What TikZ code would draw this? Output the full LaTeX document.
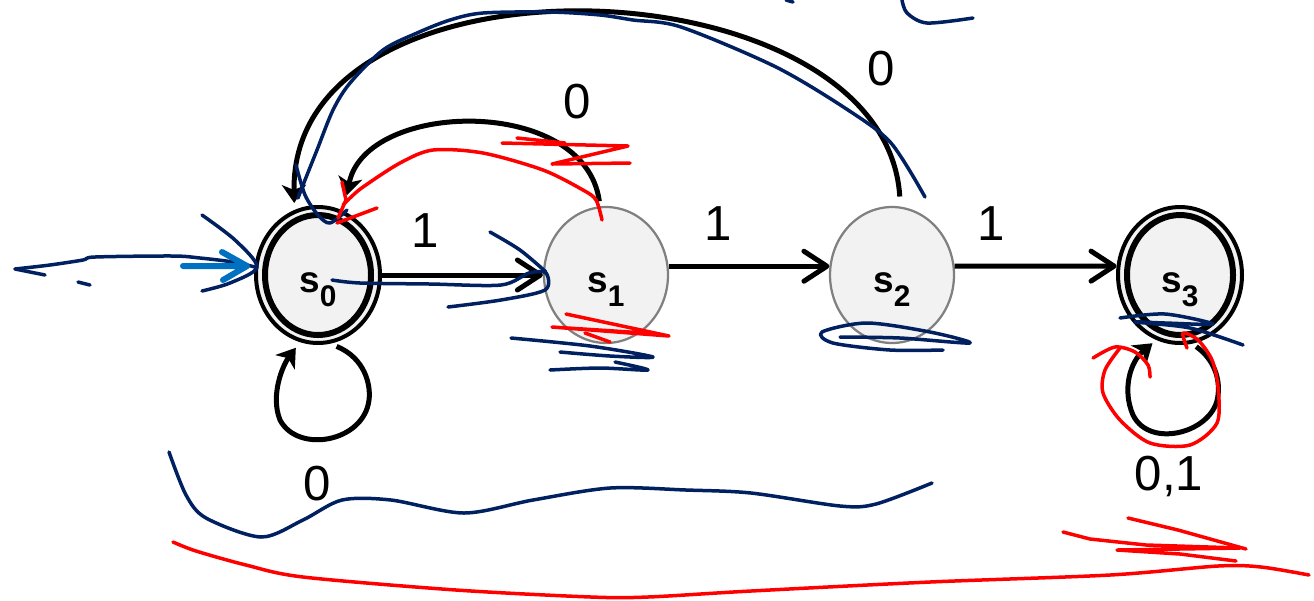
\documentclass[tikz,border=0pt]{standalone}
\usepackage{fontspec}
\setmainfont{Liberation Sans}
\usetikzlibrary{arrows.meta, shapes.geometric}
\definecolor{penblue}{RGB}{0,32,96}
\definecolor{penred}{RGB}{255,0,0}
\definecolor{markblue}{RGB}{0,112,192}
\definecolor{nodefill}{RGB}{242,242,242}
\definecolor{nodegray}{RGB}{128,128,128}
\begin{document}
\begin{tikzpicture}[x=0.02cm, y=-0.02cm,
    state/.style={ellipse, minimum width=2.48cm, minimum height=2.72cm, inner sep=0pt,
        fill=nodefill, draw=nodegray, line width=0.045cm,
        font=\bfseries\fontsize{21}{22}\selectfont},
    accept/.style={state, draw=black, line width=0.08cm},
    ring/.style={line width=0.12cm},
    trans/.style={line width=0.1cm, -{Straight Barb[length=0.46cm, width=0.6cm, round]}},
    backarc/.style={line width=0.1cm, -{Stealth[length=0.36cm, width=0.48cm, inset=0.1cm]}},
    lbl/.style={anchor=base, font=\fontsize{28}{30}\selectfont},
    bluepen/.style={penblue, line width=0.07cm, line cap=round, line join=round},
    redpen/.style={penred, line width=0.07cm, line cap=round, line join=round}]
    % 1. Khung hình
    \useasboundingbox (0,0) rectangle (1314,600);

    % 2. Các trạng thái s0..s3
    \foreach \i/\x/\kind in {0/318/accept, 1/606/state, 2/892/state, 3/1180/accept}
        \node[\kind] (s\i) at (\x, 275)
            {\raisebox{-10pt}[0pt][0pt]{s\raisebox{-8pt}{\fontsize{17}{17}\selectfont\i}}};
    % Vòng trong của trạng thái kết thúc
    \foreach \n in {s0,s3}
        \draw[ring] (\n.center) ellipse (53 and 60);

    % 3. Các cung chuyển trạng thái
    \draw[trans] (s0) -- (s1);
    \draw[trans] (s1.8) -- (s2.172);
    \draw[trans] (s2.8) -- (s3.172);
    \draw[backarc, shorten <=0.1cm, shorten >=0.32cm]
        (s1.95) .. controls (585,95) and (365,100) .. (s0.68);
    \draw[backarc, shorten <=0.2cm, shorten >=0.14cm]
        (s2.83) .. controls (885,-40) and (290,-60) .. (s0.110);
    % Vòng lặp tại s0 và s3
    \draw[backarc, shorten <=0.14cm, shorten >=0.14cm]
        (s0.-80) .. controls (365,358) and (371,385) .. (369,400)
        .. controls (364,442) and (298,454) .. (280,420)
        .. controls (270,395) and (283,365) .. (s0.-105);
    \draw[backarc, shorten <=0.1cm, shorten >=0.1cm]
        (s3.-80) .. controls (1215,360) and (1220,380) .. (1218,395)
        .. controls (1215,432) and (1150,450) .. (1133,415)
        .. controls (1122,390) and (1130,362) .. (s3.-110);

    % 4. Nhãn các cung
    \node[lbl] (l01) at (425,247) {1};
    \node[lbl] (l12) at (718,240) {1};
    \node[lbl] (l23) at (991,240) {1};
    \node[lbl] (l10) at (577,118) {0};
    \node[lbl] (l20) at (881,85) {0};
    \node[lbl] (l00) at (317,500) {0};
    \node[lbl] (l33) at (1169,490) {0,1};

    % 5. Nét viết tay màu xanh đậm
    \draw[bluepen] (45,275) -- (15,269);
    \draw[bluepen] plot[smooth, tension=0.5] coordinates {(15,269) (50,265) (83,260) (95,257) (173,256) (200,258) (233,262) (255,267)};
    \draw[bluepen] (78,282) -- (90,285);
    \draw[bluepen] plot[smooth, tension=0.5] coordinates {(202,215) (235,240) (257,267) (230,283) (202,291)};
    \draw[markblue, line width=0.12cm, line cap=round, line join=round]
        (183,266) -- (247,266) (222,252) -- (247,266) -- (223,280);
    \draw[bluepen] plot[smooth, tension=0.5] coordinates {(332,280) (360,283) (430,284) (501,285) (529,273) (546,273) (545,290) (501,300) (448,307)};
    \draw[bluepen] plot[smooth, tension=0.5] coordinates {(490,232) (520,250) (546,272)};
    \draw[bluepen] plot[smooth, tension=0.5] coordinates {(511,338) (590,346) (653,357) (610,356) (560,352)};
    \draw[bluepen] plot[smooth, tension=0.5] coordinates {(550,370) (600,368) (648,370) (615,362)};
    \draw[bluepen] plot[smooth, tension=0.5] coordinates {(925,197) (891,143) (848,110) (776,67) (681,27) (633,20) (600,15) (550,12) (483,13) (450,20) (417,33) (383,50) (350,83) (333,110) (317,150) (305,180) (298,198)};
    \draw[bluepen] plot[smooth, tension=0.5] coordinates {(296,165) (305,195) (318,215) (330,223) (347,210)};
    \draw[bluepen] plot[smooth, tension=0.5] coordinates {(902,0) (907,13) (927,23) (973,18)};
    \draw[bluepen] (786,0) -- (793,2);
    \draw[bluepen] plot[smooth, tension=0.5] coordinates {(943,350) (890,350) (833,343) (822,332) (867,323) (930,332) (970,343) (900,338) (840,337)};
    \draw[bluepen] plot[smooth, tension=0.5] coordinates {(1120,318) (1165,314) (1213,324) (1165,323) (1135,322) (1190,328) (1243,345)};
    \draw[bluepen] plot[smooth, tension=0.5] coordinates {(169,452) (186,495) (206,518) (261,537) (303,520) (342,500) (391,500) (464,513) (533,500) (610,488) (686,490) (751,493) (840,506) (876,504) (932,483)};

    % 6. Nét viết tay màu đỏ
    \draw[redpen] plot[smooth, tension=0.5] coordinates {(602,220) (596,200) (583,190) (543,170) (483,153) (433,150) (400,163) (363,187) (350,198) (343,205)};
    \draw[redpen] (342,182) -- (346,200) -- (338,218);
    \draw[redpen] (337,223) -- (377,208);
    \draw[redpen] (502,143) -- (628,146) -- (552,164) -- (630,163);
    \draw[redpen] (517,138) -- (565,143);
    \draw[redpen] (566,314) -- (669,336) -- (552,327) -- (645,333);
    \draw[redpen] (585,333) -- (610,342);
    \draw[redpen] plot[smooth, tension=0.5] coordinates {(1093,358) (1115,347) (1135,352) (1148,365) (1150,377)};
    \draw[redpen] plot[smooth, tension=0.5] coordinates {(1120,348) (1105,370) (1103,393) (1120,420) (1150,443) (1190,445) (1217,423) (1218,387) (1212,360) (1198,340) (1183,333) (1187,348)};
    \draw[redpen] plot[smooth, tension=0.5] coordinates {(173,542) (196,551) (246,565) (303,577) (456,590) (591,597) (648,597) (751,591) (930,582) (1110,575) (1218,566) (1261,567) (1309,575)};
    \draw[redpen] (1063,532) -- (1090,539) -- (1146,545) -- (1240,548) -- (1117,550) -- (1180,554) -- (1236,561);
    \draw[redpen] (1128,518) -- (1178,530) -- (1246,549);

\end{tikzpicture}
\end{document}
